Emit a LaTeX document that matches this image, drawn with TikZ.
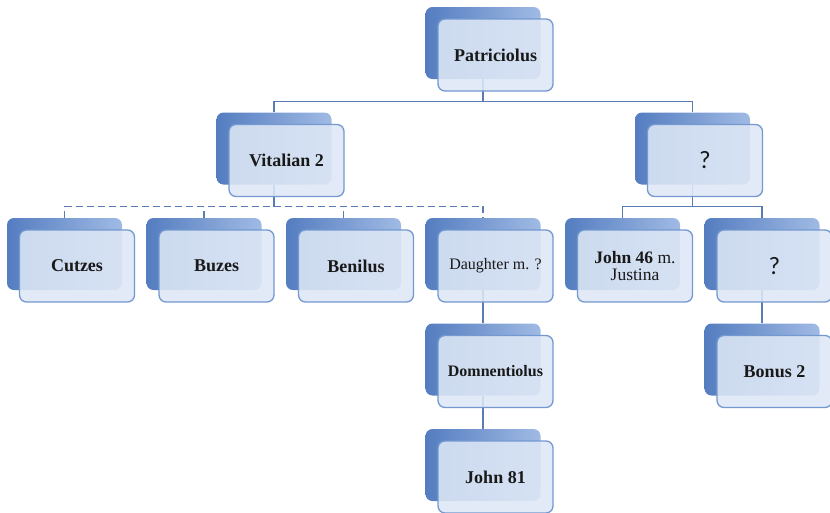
\documentclass[tikz,border=0pt]{standalone}
\usepackage{fontspec}
\setmainfont{Liberation Serif}
\newfontfamily\qfont{Carlito}
\usetikzlibrary{calc}
\definecolor{backdark}{RGB}{84,125,192}
\definecolor{backlight}{RGB}{160,186,228}
\definecolor{frontfill}{RGB}{222,232,246}
\definecolor{frontedge}{RGB}{116,153,208}
\definecolor{linkc}{RGB}{90,124,180}
\definecolor{inkc}{RGB}{25,25,25}
\tikzset{
  backbox/.style={rectangle, rounded corners=7pt, minimum width=115pt, minimum height=72pt,
    inner sep=0pt, left color=backdark, right color=backlight, draw=none},
  frontbox/.style={rectangle, rounded corners=7pt, minimum width=115pt, minimum height=72pt,
    inner sep=0pt, fill=frontfill, fill opacity=0.87, text opacity=1, draw=frontedge,
    draw opacity=1, line width=1.3pt, text=inkc, align=center,
    font=\fontsize{18}{20}\selectfont\bfseries},
  unknownbox/.style={frontbox, font=\qfont\fontsize{25}{25}\selectfont},
  link/.style={draw=linkc, line width=1.2pt},
  dashlink/.style={link, dash pattern=on 7pt off 4pt},
}
\begin{document}
\begin{tikzpicture}[x=1pt,y=-1pt]
\fill[white] (0,0) rectangle (830,512);
\useasboundingbox (0,0) rectangle (830,512);

% back plates
\node[backbox] (pat) at (483,43) {};
\node[backbox] (vit) at (274,148.5) {};
\node[backbox] (q1)  at (692.5,148.5) {};
\node[backbox] (cut) at (64.5,254) {};
\node[backbox] (buz) at (204,254) {};
\node[backbox] (ben) at (343.5,254) {};
\node[backbox] (dau) at (483,254) {};
\node[backbox] (j46) at (622.5,254) {};
\node[backbox] (q2)  at (762,254) {};
\node[backbox] (dom) at (483,359.5) {};
\node[backbox] (bon) at (762,359.5) {};
\node[backbox] (j81) at (483,465) {};

% family links
\draw[link] (pat.south) -- ++(0,22) -| (vit.north);
\draw[link] (pat.south) -- ++(0,22) -| (q1.north);
\draw[link] (vit.south) -- ++(0,22);
\draw[dashlink] (cut.north) -- ++(0,-11) -| (dau.north);
\draw[dashlink] (buz.north) -- ++(0,-11);
\draw[dashlink] (ben.north) -- ++(0,-11);
\draw[link] (q1.south) -- ++(0,22) -| (j46.north);
\draw[link] (q1.south) -- ++(0,22) -| (q2.north);
\draw[link] (dau.south) -- (dom.north);
\draw[link] (dom.south) -- (j81.north);
\draw[link] (q2.south) -- (bon.north);

% front cards with names
\node[frontbox] (patf) at ($(pat)+(12.5,12)$) {Patriciolus};
\node[frontbox] (vitf) at ($(vit)+(12.5,12)$) {Vitalian 2};
\node[unknownbox] (q1f) at ($(q1)+(12.5,12)$) {?};
\node[frontbox] (cutf) at ($(cut)+(12.5,12)$) {Cutzes};
\node[frontbox] (buzf) at ($(buz)+(12.5,12)$) {Buzes};
\node[frontbox] (benf) at ($(ben)+(12.5,12)$) {Benilus};
\node[frontbox, font=\fontsize{16}{18}\selectfont] (dauf) at ($(dau)+(12.5,12)$) {Daughter m. ?};
\node[frontbox, font=\fontsize{17.5}{17.5}\selectfont\bfseries] (j46f) at ($(j46)+(12.5,12)$)
  {John 46 {\mdseries m.}\\{\mdseries Justina}};
\node[unknownbox] (q2f) at ($(q2)+(12.5,12)$) {?};
\node[frontbox, font=\fontsize{16}{18}\selectfont\bfseries] (domf) at ($(dom)+(12.5,12)$) {Domnentiolus};
\node[frontbox] (bonf) at ($(bon)+(12.5,12)$) {Bonus 2};
\node[frontbox] (j81f) at ($(j81)+(12.5,12)$) {John 81};
\end{tikzpicture}
\end{document}
